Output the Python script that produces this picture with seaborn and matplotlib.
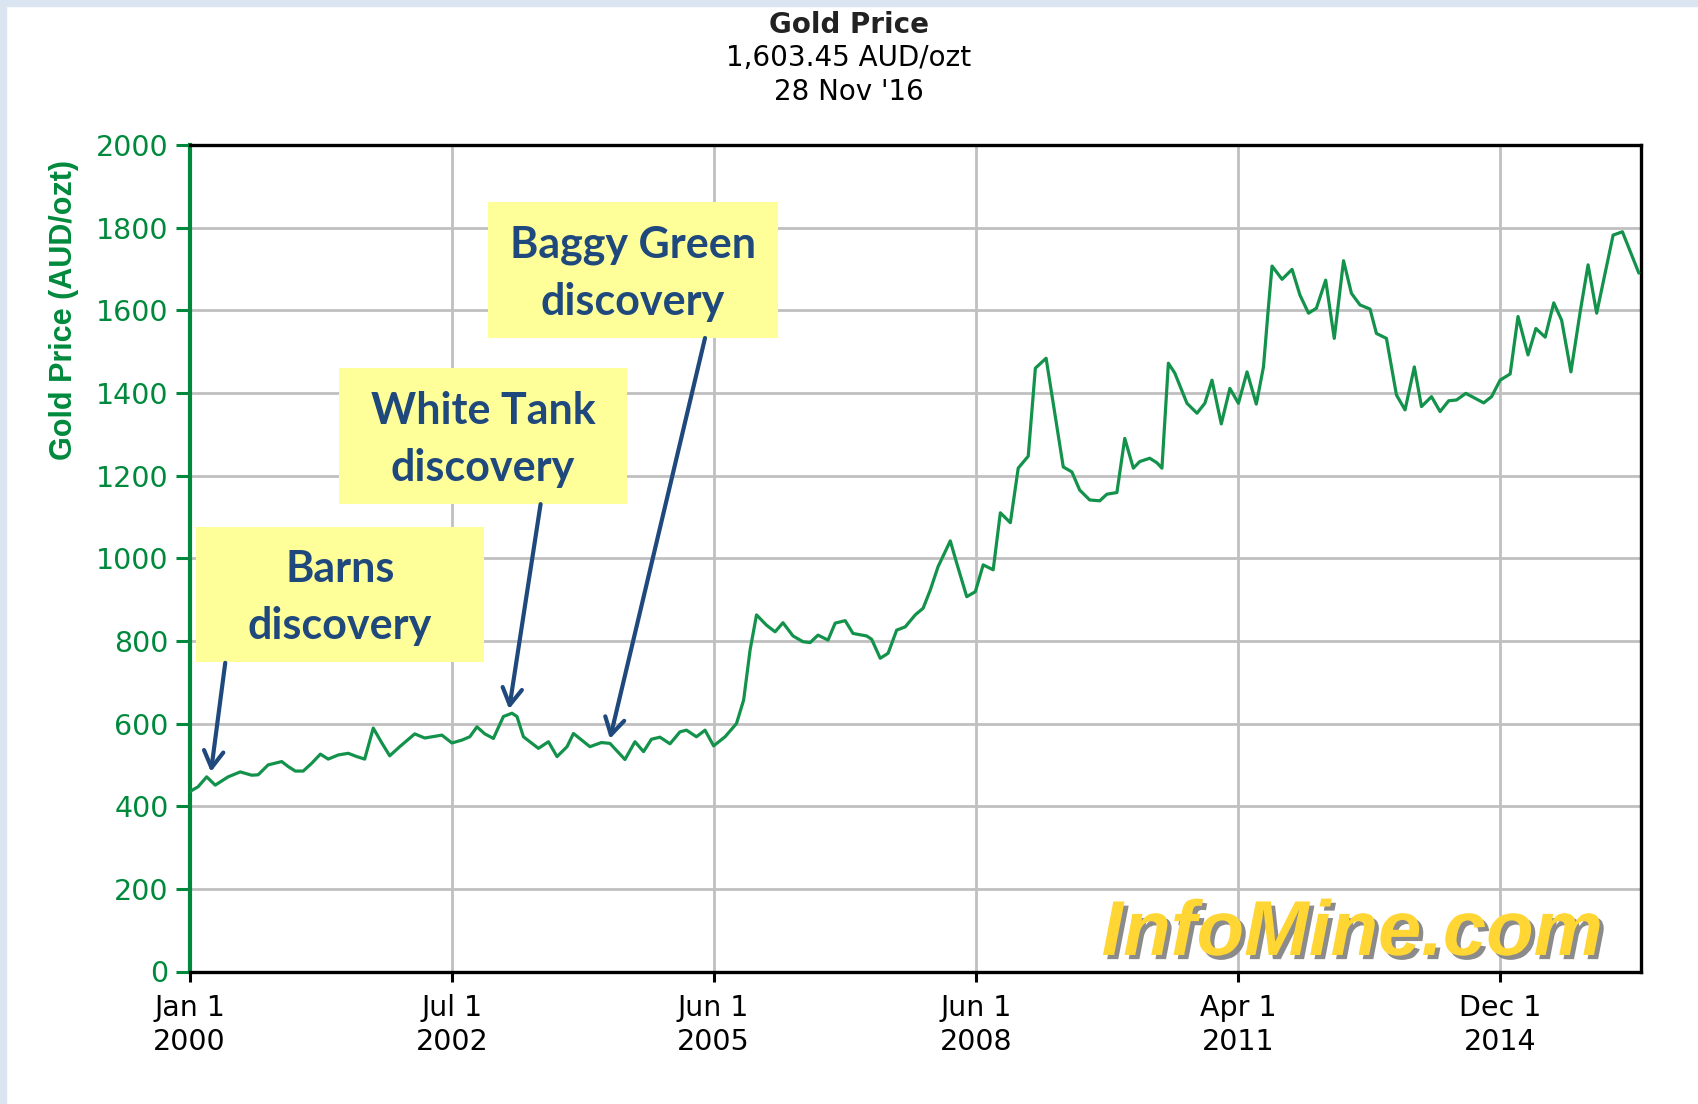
import matplotlib
matplotlib.use("Agg")
import matplotlib.pyplot as plt
import matplotlib.patheffects as pe
from matplotlib.patches import Rectangle
import seaborn as sns

# ================================
# DATA
# ================================
# months since Jan 2000
months = [0.0, 1.2, 2.4, 3.6, 5.4, 7.1, 8.7, 9.6, 11.0, 12.9, 13.8, 14.8, 15.9, 17.1,
          18.3, 19.4, 20.8, 22.2, 23.4, 24.5, 25.7, 26.9, 28.0, 29.4, 31.5, 32.9, 35.3,
          36.7, 38.1, 39.2, 40.2, 41.3, 42.5, 43.9, 45.1, 45.8, 46.7, 48.8, 50.2, 51.4,
          52.8, 53.7, 56.0, 57.6, 58.8, 60.9, 62.3, 63.5, 64.6, 65.8, 67.2, 68.6, 69.5,
          70.9, 72.1, 73.3, 74.9, 76.5, 77.5, 78.4, 79.3, 80.7, 81.9, 83.0, 84.4, 85.8,
          86.8, 87.9, 89.3, 90.3, 91.7, 92.8, 94.7, 95.4, 96.6, 97.7, 98.9, 100.1, 101.5,
          102.6, 103.6, 104.7, 106.4, 107.3, 108.7, 109.9, 111.0, 112.4, 113.4, 114.8,
          115.9, 117.3, 118.3, 119.8, 121.3, 122.2, 123.4, 124.5, 125.9, 127.3, 128.3,
          129.7, 130.8, 132.0, 132.9, 134.3, 135.3, 136.0, 136.9, 137.8, 139.5, 140.9,
          142.0, 143.0, 144.3, 145.5, 146.7, 147.9, 149.2, 150.2, 150.9, 151.4, 152.8,
          154.2, 155.3, 156.5, 157.6, 158.9, 160.1, 161.4, 162.5, 163.7, 165.1, 166.0,
          167.4, 168.8, 170.0, 171.3, 172.3, 173.7, 174.9, 176.1, 177.2, 178.5, 181.0,
          182.1, 183.3, 184.7, 185.8, 187.2, 188.3, 189.6, 190.8, 191.9, 193.2, 194.5,
          195.6, 196.8, 199.1, 200.4, 201.5, 202.7]

# gold price, AUD/ozt
price = [435, 447, 471, 451, 471, 483, 475, 476, 500, 508, 496, 485, 485, 504,
         526, 514, 524, 528, 520, 514, 589, 553, 522, 544, 575, 565, 572,
         553, 560, 568, 592, 575, 564, 617, 625, 617, 568, 540, 556, 520,
         544, 576, 544, 554, 552, 513, 556, 532, 562, 567, 551, 580, 584,
         568, 584, 546, 568, 600, 657, 778, 863, 838, 822, 844, 812, 798,
         796, 814, 802, 843, 849, 818, 812, 804, 758, 770, 826, 834, 863,
         879, 923, 980, 1042, 988, 907, 919, 984, 972, 1110, 1086,
         1218, 1247, 1460, 1484, 1320, 1221, 1209, 1165, 1141, 1139, 1155,
         1159, 1290, 1218, 1234, 1242, 1231, 1218, 1472, 1448, 1375, 1351,
         1375, 1431, 1325, 1411, 1375, 1451, 1373, 1463, 1609, 1707, 1675,
         1699, 1637, 1593, 1605, 1673, 1532, 1720, 1641, 1613, 1603, 1544,
         1532, 1395, 1359, 1463, 1367, 1391, 1355, 1381, 1383, 1399, 1376,
         1391, 1431, 1446, 1585, 1492, 1556, 1535, 1618, 1576, 1451, 1597,
         1710, 1593, 1782, 1790, 1742, 1690]

x_end = 203.0
tick_pos = [0, 36.7, 73.3, 110.0, 146.7, 183.3]
tick_labels = ["Jan 1\n2000", "Jul 1\n2002", "Jun 1\n2005",
               "Jun 1\n2008", "Apr 1\n2011", "Dec 1\n2014"]
y_ticks = list(range(0, 2001, 200))

# callouts: text, box (x0, x1, y0, y1), arrow tail, arrow tip
callout_text = ["Barns\ndiscovery", "White Tank\ndiscovery", "Baggy Green\ndiscovery"]
callout_box = [(0.9, 41.2, 749, 1076), (20.9, 61.2, 1131, 1460), (41.7, 82.3, 1533, 1861)]
callout_tail = [(5.0, 747), (49.1, 1131), (72.1, 1533)]
callout_tip = [(3.0, 483), (44.7, 635), (58.8, 563)]

GREEN = "#00893c"
LINE = "#13924b"
NAVY = "#1f497d"

# ================================
# STYLE
# ================================
sns.set_style("white")
plt.rcParams["font.family"] = ["DejaVu Sans"]

fig = plt.figure(figsize=(16.98, 11.04), dpi=100)
fig.patch.set_facecolor("white")
# light blue page border (top + left)
fig.patches.append(Rectangle((0, 1 - 6 / 1104), 1, 6 / 1104, transform=fig.transFigure,
                             color="#dbe5f1", zorder=0))
fig.patches.append(Rectangle((0, 0), 6 / 1698, 1, transform=fig.transFigure,
                             color="#dbe5f1", zorder=0))

ax = fig.add_axes([189.5 / 1698, 1 - 971.5 / 1104, (1641 - 189.5) / 1698, (971.5 - 145) / 1104])

# ================================
# LINE
# ================================
sns.lineplot(x=months, y=price, ax=ax, color=LINE, linewidth=2.3,
             estimator=None, sort=False, zorder=3)

ax.set_xlim(0, x_end)
ax.set_ylim(0, 2000)
ax.set_xticks(tick_pos)
ax.set_xticklabels(tick_labels, fontsize=20.5, color="black", linespacing=1.3)
ax.set_yticks(y_ticks)
ax.set_yticklabels([str(v) for v in y_ticks], fontsize=20.5, color=GREEN)

ax.grid(True, color="#c0c0c0", linewidth=2.0, zorder=0)
ax.set_axisbelow(True)

ax.tick_params(axis="y", direction="out", length=10, width=2.2, color=GREEN, pad=5, left=True)
ax.tick_params(axis="x", direction="out", length=7, width=2.2, color="black", pad=9, bottom=True)

for side in ["top", "right", "bottom"]:
    ax.spines[side].set_color("black")
    ax.spines[side].set_linewidth(2.4)
ax.spines["left"].set_color(GREEN)
ax.spines["left"].set_linewidth(3.0)

ax.set_xlabel("")
ax.set_ylabel("Gold Price (AUD/ozt)", color=GREEN, fontsize=22, fontweight="bold",
              family="Liberation Sans")
ax.yaxis.set_label_coords(-0.076, 0.80)

# ================================
# CALLOUTS
# ================================
for txt, (x0, x1, y0, y1), tail, tip in zip(callout_text, callout_box, callout_tail, callout_tip):
    ax.add_patch(Rectangle((x0, y0), x1 - x0, y1 - y0, facecolor="#ffff99",
                           edgecolor="none", zorder=4))
    ax.text((x0 + x1) / 2, (y0 + y1) / 2 - 8, txt, ha="center", va="center",
            fontsize=31, fontweight="bold", color=NAVY, family="Lato",
            linespacing=1.5, zorder=5)
    ax.annotate("", xy=tip, xytext=tail,
                arrowprops=dict(arrowstyle="->,head_length=0.6,head_width=0.35",
                                color=NAVY, lw=3, shrinkA=0, shrinkB=0,
                                mutation_scale=20),
                zorder=6)

# watermark
ax.text(0.801, 0.02, "InfoMine.com", transform=ax.transAxes, ha="center", va="baseline",
        fontsize=56, fontweight="bold", fontstyle="italic", family="Liberation Sans",
        color="#ffd633", zorder=2,
        path_effects=[pe.SimplePatchShadow(offset=(3, -3), shadow_rgbFace="#7f7f7f", alpha=0.9),
                      pe.Normal()])

# ================================
# TITLE
# ================================
fig.text(0.5, 1 - 25 / 1104, "Gold Price", ha="center", va="center", fontsize=20,
         fontweight="bold", family="DejaVu Sans", color="#222222")
fig.text(0.5, 1 - 58 / 1104, "1,603.45 AUD/ozt", ha="center", va="center", fontsize=20,
         family="DejaVu Sans", color="black")
fig.text(0.5, 1 - 92 / 1104, "28 Nov '16", ha="center", va="center", fontsize=20,
         family="DejaVu Sans", color="black")

fig.savefig("out.png", dpi=100, facecolor="white")
